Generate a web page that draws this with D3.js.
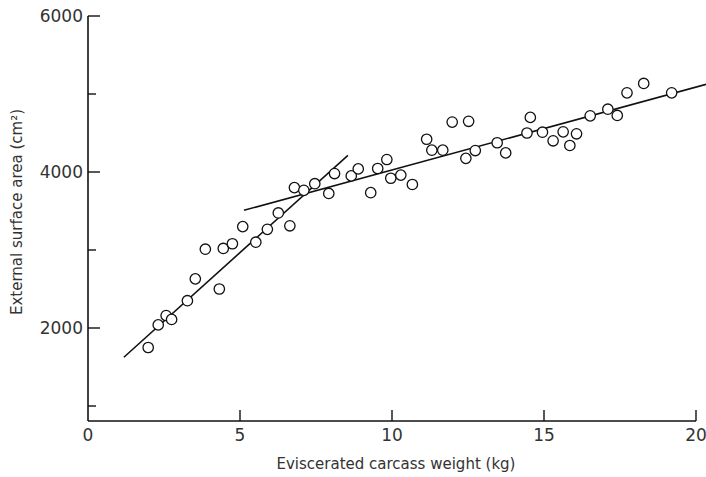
<!DOCTYPE html>
<html>
<head>
<meta charset="utf-8">
<script src="https://cdn.jsdelivr.net/npm/d3@7"></script>
<style>
  html, body { margin: 0; padding: 0; background: #fff; }
  svg { display: block; }
  text { font-family: "DejaVu Sans", sans-serif; fill: #333; }
</style>
</head>
<body>
<svg id="chart" width="706" height="477"></svg>
<script>
// Eviscerated carcass weight (kg) and external surface area (cm²)
const weightKg = [
  1.98, 2.31, 2.57, 2.75, 3.27, 3.53, 3.86, 4.32, 4.45, 4.75,
  5.09, 5.52, 5.90, 6.26, 6.64, 6.79, 7.10, 7.46, 7.92, 8.11,
  8.66, 8.89, 9.30, 9.53, 9.83, 9.96, 10.29, 10.67, 11.14, 11.31,
  11.67, 11.98, 12.52, 12.43, 12.74, 13.46, 13.74, 14.44, 14.55, 14.95,
  15.30, 15.63, 15.85, 16.07, 16.52, 17.10, 17.41, 17.73, 18.28, 19.20
];
const surfaceArea = [
  1750, 2040, 2160, 2110, 2350, 2630, 3010, 2500, 3020, 3080,
  3300, 3100, 3265, 3475, 3310, 3800, 3765, 3850, 3725, 3980,
  3950, 4040, 3735, 4045, 4160, 3920, 3960, 3840, 4420, 4280,
  4280, 4640, 4650, 4175, 4275, 4375, 4245, 4500, 4700, 4510,
  4400, 4515, 4340, 4490, 4720, 4805, 4725, 5015, 5135, 5015
];

// Two fitted straight-line segments: [x0, y0, x1, y1]
const lowerFit = [1.18, 1625, 8.55, 4214];
const upperFit = [5.13, 3509, 20.33, 5124];

const xTicks = [0, 5, 10, 15, 20];
const yMajorTicks = [2000, 4000, 6000];
const yMinorTicks = [1000, 3000, 5000];

const xTitle = "Eviscerated carcass weight (kg)";
const yTitle = "External surface area (cm²)";

const svg = d3.select("#chart");

const x = d3.scaleLinear().domain([0, 20]).range([88, 696]);
const y = d3.scaleLinear().domain([2000, 6000]).range([328, 16]);
const yBottom = 421; // level of the horizontal axis

// Axis lines
svg.append("line")
  .attr("x1", x(0)).attr("x2", x(0))
  .attr("y1", y(6000)).attr("y2", yBottom)
  .attr("stroke", "#111").attr("stroke-width", 1.6);
svg.append("line")
  .attr("x1", x(0)).attr("x2", x(20))
  .attr("y1", yBottom).attr("y2", yBottom)
  .attr("stroke", "#111").attr("stroke-width", 1.6);

// x ticks point upward, into the plot
svg.selectAll(".xtick").data(xTicks.filter(d => d > 0)).join("line")
  .attr("x1", d => x(d)).attr("x2", d => x(d))
  .attr("y1", yBottom).attr("y2", yBottom - 11)
  .attr("stroke", "#111").attr("stroke-width", 1.4);
svg.selectAll(".xlab").data(xTicks).join("text")
  .attr("x", d => x(d)).attr("y", 441)
  .attr("text-anchor", "middle")
  .style("font-size", "17px")
  .text(d => d);

// y ticks point right, into the plot
svg.selectAll(".ymaj").data(yMajorTicks).join("line")
  .attr("x1", x(0)).attr("x2", x(0) + 12)
  .attr("y1", d => y(d)).attr("y2", d => y(d))
  .attr("stroke", "#111").attr("stroke-width", 1.4);
svg.selectAll(".ymin").data(yMinorTicks).join("line")
  .attr("x1", x(0)).attr("x2", x(0) + 8)
  .attr("y1", d => y(d)).attr("y2", d => y(d))
  .attr("stroke", "#111").attr("stroke-width", 1.4);
svg.selectAll(".ylab").data(yMajorTicks).join("text")
  .attr("x", 83).attr("y", d => y(d))
  .attr("dy", "0.36em")
  .attr("text-anchor", "end")
  .style("font-size", "17px")
  .text(d => d);

// Axis titles
svg.append("text")
  .attr("x", 396).attr("y", 469)
  .attr("text-anchor", "middle")
  .style("font-size", "15px")
  .text(xTitle);
svg.append("text")
  .attr("transform", "translate(22,212) rotate(-90)")
  .attr("text-anchor", "middle")
  .style("font-size", "15px")
  .text(yTitle);

// Fitted lines
[lowerFit, upperFit].forEach(s => {
  svg.append("line")
    .attr("x1", x(s[0])).attr("y1", y(s[1]))
    .attr("x2", x(s[2])).attr("y2", y(s[3]))
    .attr("stroke", "#111").attr("stroke-width", 1.6);
});

// Observations
svg.selectAll(".pt").data(d3.range(weightKg.length)).join("circle")
  .attr("cx", i => x(weightKg[i]))
  .attr("cy", i => y(surfaceArea[i]))
  .attr("r", 5.2)
  .attr("fill", "#fff")
  .attr("stroke", "#111")
  .attr("stroke-width", 1.3);
</script>
</body>
</html>
